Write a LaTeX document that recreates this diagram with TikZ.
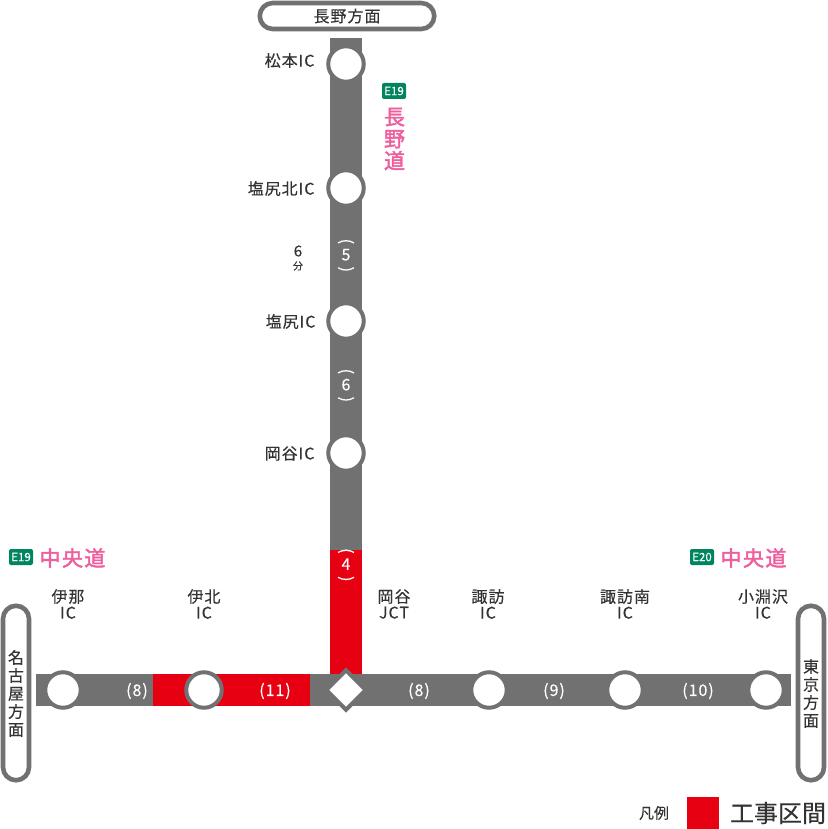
\documentclass[tikz,border=0pt]{standalone}
\usepackage{fontspec}
\usepackage{graphicx}
\setmainfont[FakeBold=0.3]{Noto Sans CJK JP}
\newfontfamily\spaced[LetterSpace=6,FakeBold=0.3]{Noto Sans CJK JP}
\newfontfamily\pinkface[FakeBold=2.2]{Noto Sans CJK JP}
\newfontfamily\pinkspaced[LetterSpace=7,FakeBold=2.2]{Noto Sans CJK JP}
\usetikzlibrary{shapes.geometric,backgrounds}
\definecolor{road}{HTML}{727171}
\definecolor{work}{HTML}{E60012}
\definecolor{ink}{HTML}{333333}
\definecolor{pinktext}{HTML}{EE5F9E}
\definecolor{badge}{HTML}{00855F}
\newcommand{\topparen}{\rotatebox[origin=c]{-90}{(}}
\newcommand{\botparen}{\rotatebox[origin=c]{-90}{)}}
\tikzset{
  every node/.style={inner sep=0pt,outer sep=0pt,text=ink},
  stop/.style={circle,draw=road,fill=white,line width=4pt,minimum size=35.5pt},
  jct/.style={diamond,draw=road,fill=white,line width=4pt,minimum width=39.6pt,minimum height=39.6pt,miter limit=10},
  roadline/.style={draw=road,line width=32pt},
  workline/.style={draw=work,line width=32pt},
  dirpill/.style={draw=road,fill=white,line width=4.600pt,rounded corners=13pt},
  lab/.style={font=\spaced\fontsize{16}{16}\selectfont,align=center},
  sidelab/.style={font=\spaced\fontsize{16}{16}\selectfont,anchor=east},
  time/.style={text=white,font=\spaced\fontsize{16}{16}\selectfont},
  vtime/.style={text=white,font=\fontsize{16}{14}\selectfont,align=center},
  route/.style={text=pinktext,font=\pinkface\fontsize{21}{22}\selectfont,align=center},
  routeh/.style={text=pinktext,font=\pinkspaced\fontsize{21}{22}\selectfont},
  shield/.style={fill=badge,rounded corners=2pt,minimum width=24pt,minimum height=16pt,text=white,font=\fontsize{11.5}{11.5}\selectfont},
  dirv/.style={font=\fontsize{16}{18}\selectfont,align=center}
}
\begin{document}
\begin{tikzpicture}[x=1pt,y=-1pt]
\useasboundingbox (0,0) rectangle (827,829);
% stops
\node[stop] (matsumoto) at (346,64) {};
\node[stop] (shiojirikita) at (346,188) {};
\node[stop] (shiojiri) at (346,321) {};
\node[stop] (okaya) at (346,453) {};
\node[stop] (ina) at (63,690) {};
\node[stop] (ihoku) at (204,690) {};
\node[jct] (okayajct) at (346,690) {};
\node[stop] (suwa) at (489,690) {};
\node[stop] (suwaminami) at (625,690) {};
\node[stop] (kobuchizawa) at (766,690) {};
\coordinate (ntop) at (346,38);
\coordinate (wtop) at (346,550);
\coordinate (wend) at (36,690);
\coordinate (eend) at (791,690);
\coordinate (wa) at (153,690);
\coordinate (wb) at (310,690);
\begin{scope}[on background layer]
  \draw[roadline] (ntop) -- (matsumoto.center) -- (shiojirikita.center) -- (shiojiri.center) -- (okaya.center) -- (wtop);
  \draw[workline] (wtop) -- (okayajct.center);
  \draw[roadline] (wend) -- (ina.center) -- (wa);
  \draw[workline] (wa) -- (ihoku.center) -- (wb);
  \draw[roadline] (wb) -- (okayajct.center) -- (suwa.center) -- (suwaminami.center) -- (kobuchizawa.center) -- (eend);
\end{scope}
% direction pills
\node[dirpill,minimum width=174.500pt,minimum height=26pt] (dirn) at (347,16) {\fontsize{16}{16}\selectfont\spaced 長野方面};
\node[dirpill,minimum width=26pt,minimum height=174.500pt] (dirw) at (16,693) {};
\node[dirv] (dirwt) at (16,693.500) {名\\古\\屋\\方\\面};
\node[dirpill,minimum width=26pt,minimum height=174.500pt] (dire) at (811,693) {};
\node[dirv] (diret) at (811,693.500) {東\\京\\方\\面};
% side labels
\node[sidelab] (l1) at (314.500,60.500) {松本IC};
\node[sidelab] (l2) at (314.500,188.500) {塩尻北IC};
\node[sidelab] (l3) at (315.500,321.500) {塩尻IC};
\node[sidelab] (l4) at (314.500,453.500) {岡谷IC};
\node[lab] (l5) at (68,604) {伊那\\IC};
\node[lab] (l6) at (204,604) {伊北\\IC};
\node[lab] (l7) at (394,604) {岡谷\\JCT};
\node[lab] (l8) at (488,604) {諏訪\\IC};
\node[lab] (l9) at (625,604) {諏訪南\\IC};
\node[lab] (l10) at (763,604) {小淵沢\\IC};
% times
\node[font=\fontsize{15}{15}\selectfont] (six) at (298,251) {6};
\node[font=\fontsize{10}{10}\selectfont] (fun) at (298,266) {分};
\node[vtime] (t5) at (346,256.500) {\topparen\\5\\\botparen};
\node[vtime] (t6) at (346,386.500) {\topparen\\6\\\botparen};
\node[vtime] (t4) at (346,566) {\topparen\\4\\\botparen};
\node[time] (t8a) at (137,691) {(8)};
\node[time] (t11) at (275,691) {(11)};
\node[time] (t8b) at (419,691) {(8)};
\node[time] (t9) at (554,691) {(9)};
\node[time] (t10) at (698,691) {(10)};
% routes
\node[shield] (s1) at (394,91) {E19};
\node[route] (r1) at (394.500,139) {長\\野\\道};
\node[shield] (s2) at (21,557) {E19};
\node[routeh] (r2) at (72.500,558) {中央道};
\node[shield] (s3) at (702,557) {E20};
\node[routeh] (r3) at (753.500,558) {中央道};
% legend
\node[font=\fontsize{15}{15}\selectfont] (leg) at (654,813) {凡例};
\node[fill=work,minimum size=32pt] (legbox) at (703,813) {};
\node[font=\fontsize{24}{24}\selectfont] (legt) at (778,813) {工事区間};
\end{tikzpicture}
\end{document}
